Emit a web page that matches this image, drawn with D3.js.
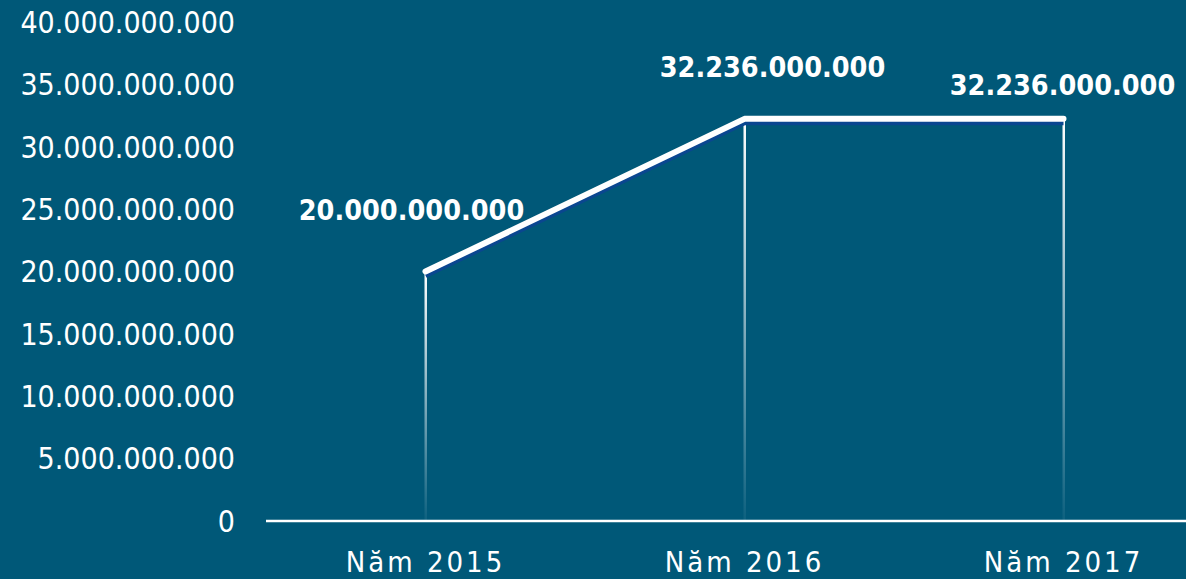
<!DOCTYPE html>
<meta charset="utf-8">
<script src="https://cdn.jsdelivr.net/npm/d3@7"></script>
<style>
html,body{margin:0;padding:0;background:#005878;overflow:hidden}
svg{display:block;font-family:"DejaVu Sans Condensed","DejaVu Sans",Verdana,sans-serif}
</style>
<body>
<script>

// Data
var years = ["Năm 2015", "Năm 2016", "Năm 2017"];
var values = [20000000000, 32236000000, 32236000000];
var yTicks = [0, 5e9, 10e9, 15e9, 20e9, 25e9, 30e9, 35e9, 40e9];

// label nudges, the original puts them where it likes
var labelNudge = [[-14, -52], [28, -42], [-1, -24]];

var W = 1186, H = 579;

var fmt = function(v){ return d3.format(",")(v).replace(/,/g, "."); };

var svg = d3.select("body").append("svg")
    .attr("width", W).attr("height", H);

var x = d3.scaleBand().domain(years).range([266, 1223]).padding(0);
var y = d3.scaleLinear().domain([0, 40e9]).range([521, 22]);
var cx = function(d){ return x(d) + x.bandwidth() / 2; };

var defs = svg.append("defs");
var grad = defs.append("linearGradient")
    .attr("id", "drop").attr("x1", 0).attr("y1", 0).attr("x2", 0).attr("y2", 1);
grad.append("stop").attr("offset", "0%").attr("stop-color", "#fff").attr("stop-opacity", 1);
grad.append("stop").attr("offset", "100%").attr("stop-color", "#fff").attr("stop-opacity", 0.05);

// y axis labels
svg.append("g")
    .selectAll("text")
    .data(yTicks)
    .enter().append("text")
    .attr("x", 235)
    .attr("y", function(d){ return y(d); })
    .attr("dy", "0.36em")
    .attr("text-anchor", "end")
    .attr("fill", "#fff")
    .style("font-size", "30px")
    .text(fmt);

// drop lines
svg.append("g")
    .selectAll("rect")
    .data(years)
    .enter().append("rect")
    .attr("x", function(d){ return cx(d) - 1; })
    .attr("width", 2.5)
    .attr("y", function(d, i){ return y(values[i]); })
    .attr("height", function(d, i){ return y(0) - y(values[i]); })
    .attr("fill", "url(#drop)");

// x axis
svg.append("line")
    .attr("x1", 266).attr("x2", W)
    .attr("y1", y(0)).attr("y2", y(0))
    .attr("stroke", "#fff").attr("stroke-width", 2.5);

svg.append("g")
    .selectAll("text")
    .data(years)
    .enter().append("text")
    .attr("x", function(d){ return cx(d); })
    .attr("y", 572)
    .attr("text-anchor", "middle")
    .attr("fill", "#fff")
    .style("font-size", "29px")
    .style("letter-spacing", "3px")
    .text(function(d){ return d; });

// line + shadow
var pts = years.map(function(d, i){ return [cx(d), y(values[i])]; });
var line = d3.line();

svg.append("path")
    .attr("d", line(pts))
    .attr("transform", "translate(0,4)")
    .attr("fill", "none")
    .attr("stroke", "#0a4690")
    .attr("stroke-width", 5)
    .attr("stroke-linejoin", "round");

svg.append("path")
    .attr("d", line(pts))
    .attr("fill", "none")
    .attr("stroke", "#fff")
    .attr("stroke-width", 6)
    .attr("stroke-linejoin", "round")
    .attr("stroke-linecap", "round");

// value labels
svg.append("g")
    .selectAll("text")
    .data(values)
    .enter().append("text")
    .attr("x", function(d, i){ return pts[i][0] + labelNudge[i][0]; })
    .attr("y", function(d, i){ return pts[i][1] + labelNudge[i][1]; })
    .attr("text-anchor", "middle")
    .attr("fill", "#fff")
    .style("font-size", "28.5px")
    .style("font-weight", "bold")
    .text(fmt);

</script>
